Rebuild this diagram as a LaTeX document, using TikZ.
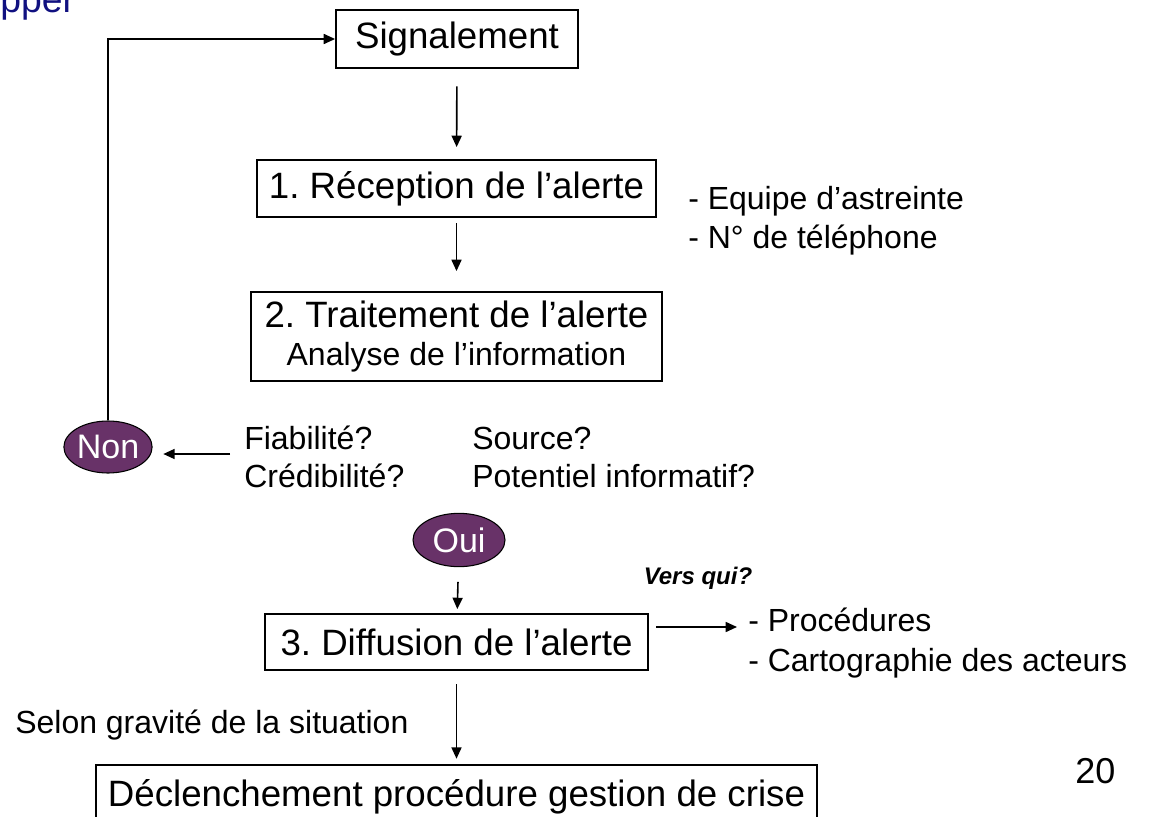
\documentclass[tikz,border=0pt]{standalone}
\usepackage{fontspec}
\setmainfont{Liberation Sans}
\usetikzlibrary{arrows.meta,shapes.geometric}
\definecolor{plum}{RGB}{104,50,104}
\definecolor{titleblue}{RGB}{16,16,128}
\frenchspacing

\begin{document}
\begin{tikzpicture}[x=0.75pt,y=-0.75pt,
  box/.style={draw,line width=1.4pt,inner sep=0pt,align=center,font=\fontsize{27.5}{32}\selectfont},
  answer/.style={ellipse,draw,line width=0.8pt,fill=plum,text=white,inner sep=0pt,
                 minimum width=62pt,minimum height=39pt,font=\fontsize{25.5}{28}\selectfont},
  note/.style={anchor=base west,inner sep=0pt,font=\fontsize{24}{28}\selectfont},
  flow/.style={line width=1.2pt,-{Triangle[length=8.5pt,width=7.5pt]}}]
\useasboundingbox (0,0) rectangle (1153,817);
\clip (0,0) rectangle (1153,817);

% slide title, cut by the top edge
\node[anchor=base west,inner sep=0pt,text=titleblue,font=\fontsize{28}{32}\selectfont] (title) at (0,13) {pper};

% main chain of steps
\node[box,minimum width=181.5pt,minimum height=43.5pt] (sig) at (457,39) {Signalement};
\node[box,minimum width=299.25pt,minimum height=42.75pt] (rec) at (456.5,188.5) {1. Réception de l’alerte};
\node[box,minimum width=308.25pt,minimum height=66.75pt] (trt) at (456.5,336.5)
  {2. Traitement de l’alerte\\[-3pt]{\fontsize{24}{28}\selectfont Analyse de l’information}};
\node[answer] (non) at (108,447) {Non};
\node[answer,minimum width=69pt,minimum height=40pt] (oui) at (459,540) {Oui};
\node[box,minimum width=287.25pt,minimum height=42pt] (dif) at (456.5,642) {3. Diffusion de l’alerte};
\node[box,minimum width=540.75pt,minimum height=48pt] (crise) at (456.5,797) {Déclenchement procédure gestion de crise};

% side notes
\node[note] (eq) at (688,209) {- Equipe d’astreinte};
\node[note] (tel) at (688,248) {- N° de téléphone};
\node[note] (fia) at (244,449) {Fiabilité?};
\node[note] (cre) at (244,487) {Crédibilité?};
\node[note] (src) at (472,449) {Source?};
\node[note] (pot) at (472,487) {Potentiel informatif?};
\node[anchor=base,inner sep=0pt,font=\fontsize{18}{20}\selectfont\bfseries\itshape] (vers) at (698,584) {Vers qui?};
\node[note] (proc) at (748,631) {- Procédures};
\node[note] (carto) at (748,671) {- Cartographie des acteurs};
\node[note] (selon) at (15,733) {Selon gravité de la situation};
\node[anchor=base west,inner sep=0pt,font=\fontsize{27}{30}\selectfont] (page) at (1075,783) {20};

% connectors
\draw[flow,shorten >=9pt,shorten <=13pt] (sig) -- (rec);
\draw[flow,shorten >=15pt,shorten <=4pt] (rec) -- (trt);
\draw[flow,shorten >=3pt,shorten <=11pt] (oui) -- (dif);
\draw[flow,shorten >=4pt,shorten <=10pt] (dif) -- (crise);
\draw[flow] (non.north) |- (sig.west);
\coordinate (fiaL) at (230,454);
\draw[flow,shorten >=8pt] (fiaL) -- (non.east |- fiaL);
\coordinate (difR) at (656,627);
\coordinate (procL) at (737,627);
\draw[flow] (difR) -- (procL);
\end{tikzpicture}
\end{document}
